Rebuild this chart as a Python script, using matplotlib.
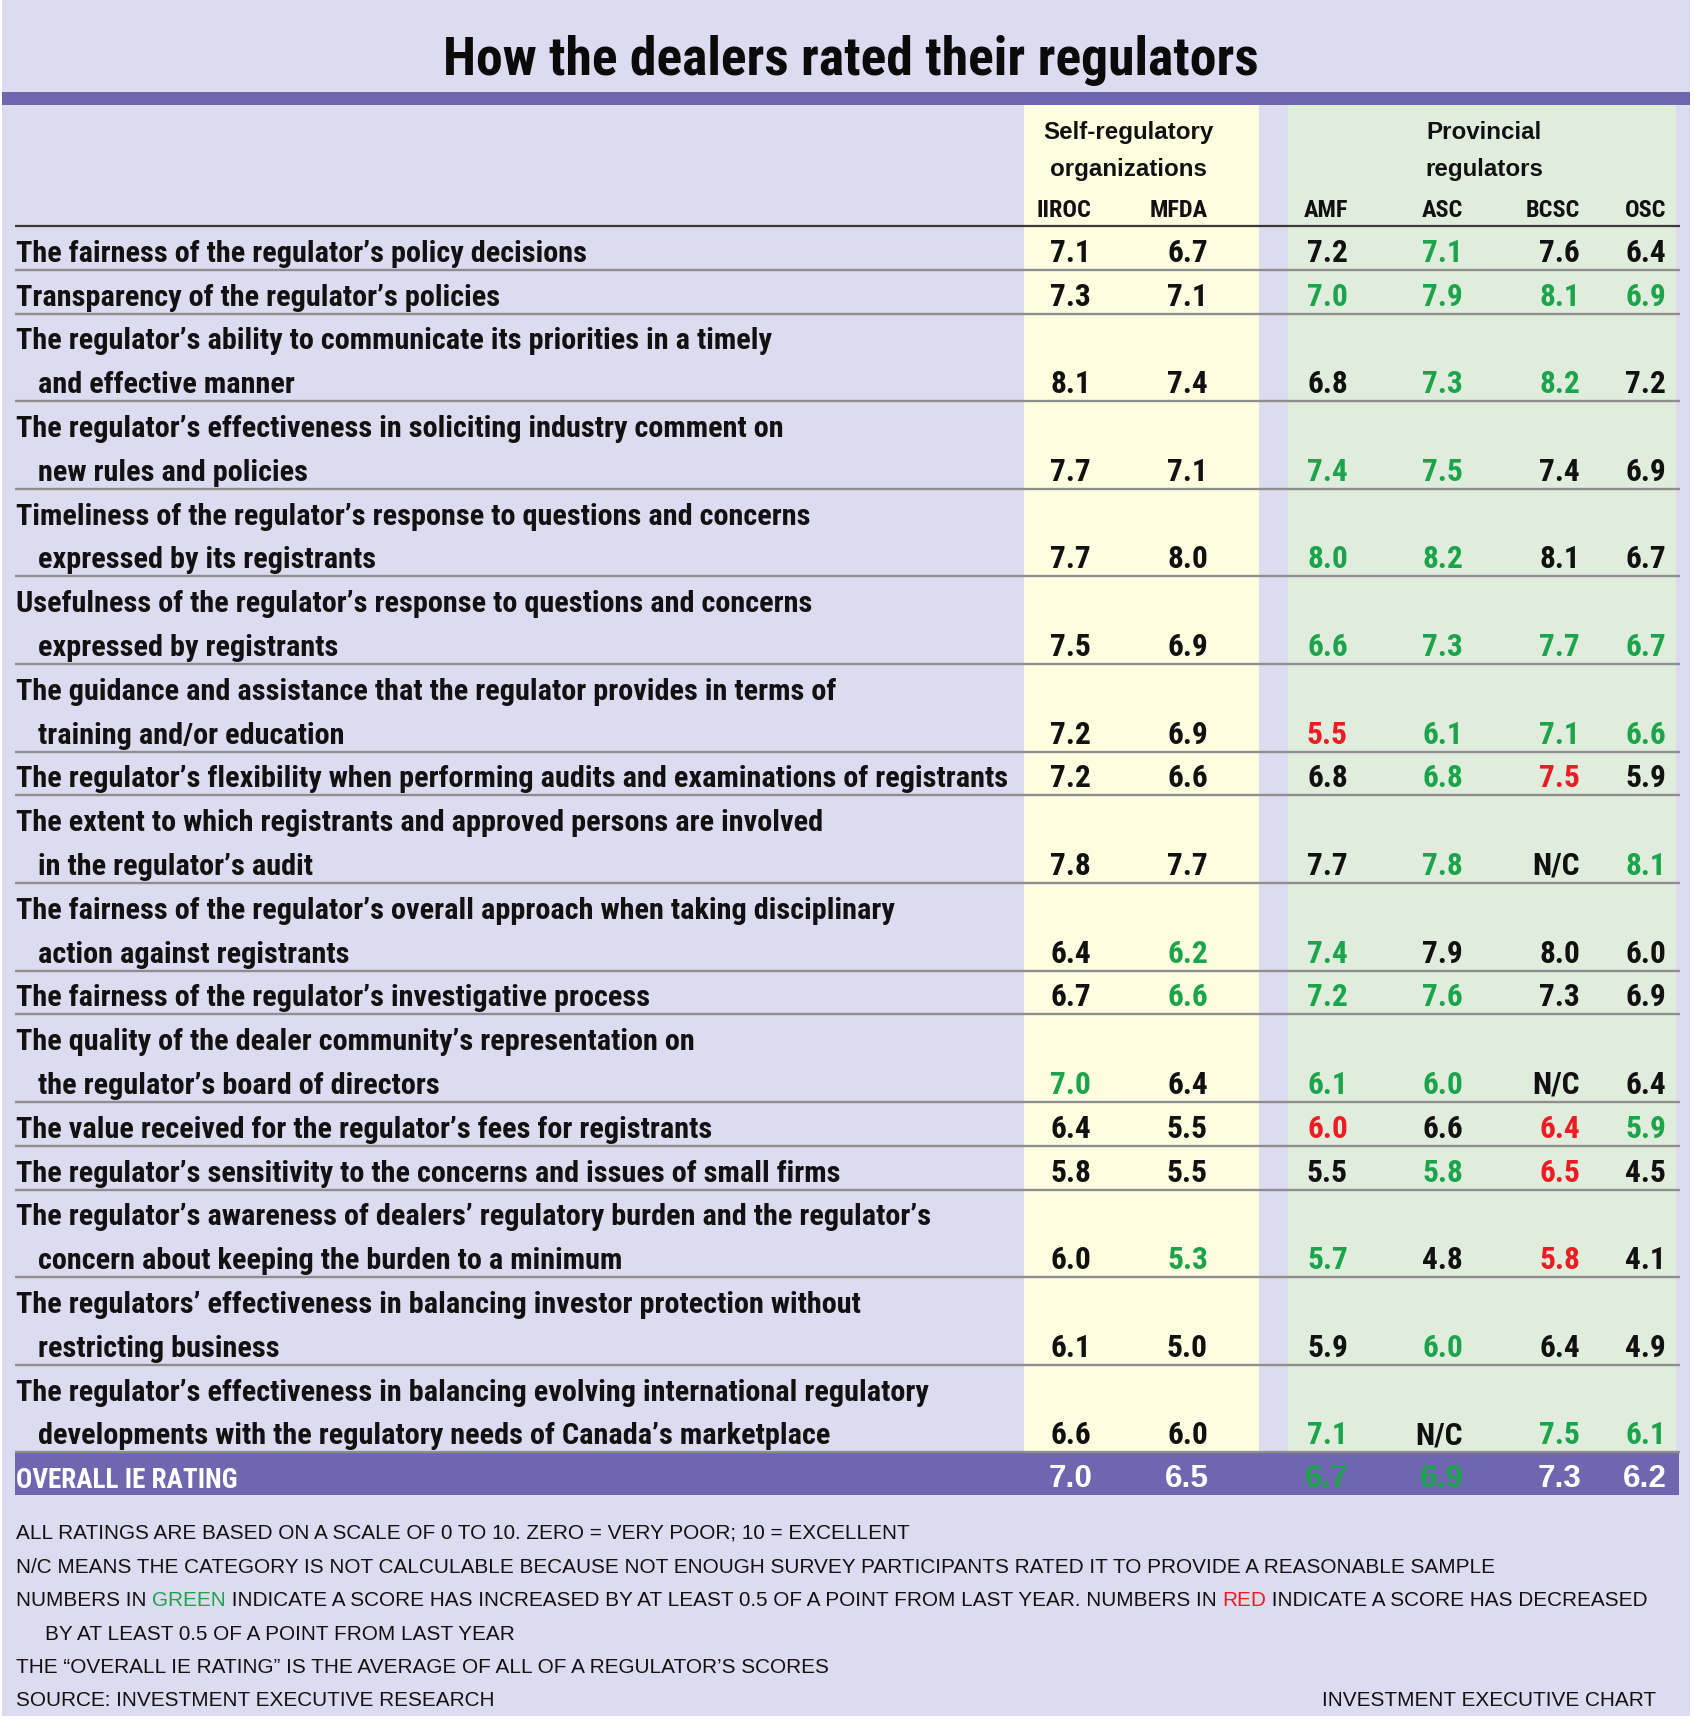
import matplotlib
matplotlib.use("Agg")
import matplotlib.pyplot as plt
from matplotlib.patches import Rectangle
from matplotlib import font_manager as fm
import numpy as np

# ---------------- data ----------------
title = "How the dealers rated their regulators"
group_labels = ["Self-regulatory\norganizations", "Provincial\nregulators"]
columns = ["IIROC", "MFDA", "AMF", "ASC", "BCSC", "OSC"]

criteria = [
    "The fairness of the regulator\u2019s policy decisions",
    "Transparency of the regulator\u2019s policies",
    "The regulator\u2019s ability to communicate its priorities in a timely\nand effective manner",
    "The regulator\u2019s effectiveness in soliciting industry comment on\nnew rules and policies",
    "Timeliness of the regulator\u2019s response to questions and concerns\nexpressed by its registrants",
    "Usefulness of the regulator\u2019s response to questions and concerns\nexpressed by registrants",
    "The guidance and assistance that the regulator provides in terms of\ntraining and/or education",
    "The regulator\u2019s flexibility when performing audits and examinations of registrants",
    "The extent to which registrants and approved persons are involved\nin the regulator\u2019s audit",
    "The fairness of the regulator\u2019s overall approach when taking disciplinary\naction against registrants",
    "The fairness of the regulator\u2019s investigative process",
    "The quality of the dealer community\u2019s representation on\nthe regulator\u2019s board of directors",
    "The value received for the regulator\u2019s fees for registrants",
    "The regulator\u2019s sensitivity to the concerns and issues of small firms",
    "The regulator\u2019s awareness of dealers\u2019 regulatory burden and the regulator\u2019s\nconcern about keeping the burden to a minimum",
    "The regulators\u2019 effectiveness in balancing investor protection without\nrestricting business",
    "The regulator\u2019s effectiveness in balancing evolving international regulatory\ndevelopments with the regulatory needs of Canada\u2019s marketplace",
]

iiroc = [7.1, 7.3, 8.1, 7.7, 7.7, 7.5, 7.2, 7.2, 7.8, 6.4, 6.7, 7.0, 6.4, 5.8, 6.0, 6.1, 6.6]
mfda  = [6.7, 7.1, 7.4, 7.1, 8.0, 6.9, 6.9, 6.6, 7.7, 6.2, 6.6, 6.4, 5.5, 5.5, 5.3, 5.0, 6.0]
amf   = [7.2, 7.0, 6.8, 7.4, 8.0, 6.6, 5.5, 6.8, 7.7, 7.4, 7.2, 6.1, 6.0, 5.5, 5.7, 5.9, 7.1]
asc   = [7.1, 7.9, 7.3, 7.5, 8.2, 7.3, 6.1, 6.8, 7.8, 7.9, 7.6, 6.0, 6.6, 5.8, 4.8, 6.0, None]
bcsc  = [7.6, 8.1, 8.2, 7.4, 8.1, 7.7, 7.1, 7.5, None, 8.0, 7.3, None, 6.4, 6.5, 5.8, 6.4, 7.5]
osc   = [6.4, 6.9, 7.2, 6.9, 6.7, 6.7, 6.6, 5.9, 8.1, 6.0, 6.9, 6.4, 5.9, 4.5, 4.1, 4.9, 6.1]

# change vs last year: g = up at least 0.5, r = down at least 0.5, - = none
iiroc_chg = "-----------g-----"
mfda_chg  = "---------gg---g--"
amf_chg   = "-g-gggr--gggr-g-g"
asc_chg   = "ggggggggg-gg-g-g-"
bcsc_chg  = "-gg--ggr----rrr-g"
osc_chg   = "-g---gg-g---g---g"

overall_label = "OVERALL IE RATING"
overall = [7.0, 6.5, 6.7, 6.9, 7.3, 6.2]
overall_chg = "--gg--"

notes = [
    "ALL RATINGS ARE BASED ON A SCALE OF 0 TO 10. ZERO = VERY POOR; 10 = EXCELLENT",
    "N/C MEANS THE CATEGORY IS NOT CALCULABLE BECAUSE NOT ENOUGH SURVEY PARTICIPANTS RATED IT TO PROVIDE A REASONABLE SAMPLE",
    [("NUMBERS IN ", "k"), ("GREEN", "g"),
     (" INDICATE A SCORE HAS INCREASED BY AT LEAST 0.5 OF A POINT FROM LAST YEAR. NUMBERS IN ", "k"),
     ("RED", "r"), (" INDICATE A SCORE HAS DECREASED", "k")],
    "BY AT LEAST 0.5 OF A POINT FROM LAST YEAR",
    "THE \u201cOVERALL IE RATING\u201d IS THE AVERAGE OF ALL OF A REGULATOR\u2019S SCORES",
    "SOURCE: INVESTMENT EXECUTIVE RESEARCH",
]
credit = "INVESTMENT EXECUTIVE CHART"

values = [iiroc, mfda, amf, asc, bcsc, osc]
changes = [iiroc_chg, mfda_chg, amf_chg, asc_chg, bcsc_chg, osc_chg]

# ---------------- fonts ----------------
def find_condensed_bold():
    prefs = ["liberationsansnarrow-bold.", "robotocondensed-bold.", "notosans-condensedbold.",
             "opensans-condensedbold.", "dejavusanscondensed-bold.", "notosans-semicondensedbold.",
             "opensans_condensed-bold", "robotocondensed-semibold", "notosans-extracondensedbold."]
    entries = fm.fontManager.ttflist
    lowmap = {}
    for e in entries:
        lowmap.setdefault(e.fname.lower().split("/")[-1], e)
    for p in prefs:
        for k, e in lowmap.items():
            if k.startswith(p) or p in k:
                return fm.FontProperties(fname=e.fname)
    for k, e in lowmap.items():
        if ("condensed" in k or "narrow" in k) and "bold" in k and "italic" not in k \
                and "extra" not in k and "semi" not in k:
            return fm.FontProperties(fname=e.fname)
    return fm.FontProperties(family=["DejaVu Sans"], weight="bold")

COND = find_condensed_bold()
SANS_B = fm.FontProperties(family=["Liberation Sans", "DejaVu Sans"], weight="bold")
SANS_R = fm.FontProperties(family=["Liberation Sans", "DejaVu Sans"], weight="normal")

# ---------------- style ----------------
W, H = 1694, 1724
LAV = "#DCDBEF"
PURPLE = "#6E67AF"
YELLOW = "#FEFDDF"
MINT = "#E1EDDC"
GRID = "#8E8E8E"
GREEN = "#1BA44B"
RED = "#EC1C24"
COLMAP = {"-": "#111111", "k": "#111111", "g": GREEN, "r": RED}

col_x = [1091, 1208, 1348, 1463, 1580, 1666]
group_x = [1128, 1484]
unit = 43.8
table_top = 227
x_left, x_right = 15, 1680

fig = plt.figure(figsize=(W / 100, H / 100), dpi=100)
fig.patch.set_facecolor("white")
ax = fig.add_axes([0, 0, 1, 1])
ax.set_xlim(0, W)
ax.set_ylim(H, 0)
ax.axis("off")
renderer = fig.canvas.get_renderer()


def fit_size(text, fp, target_px):
    t = ax.text(0, 0, text, fontproperties=fp, fontsize=20)
    w = t.get_window_extent(renderer=renderer).width
    t.remove()
    return 20 * target_px / w


def txt(x, y, s, fp, size, **kw):
    kw.setdefault("va", "baseline")
    kw.setdefault("color", "#111111")
    kw.setdefault("zorder", 5)
    return ax.text(x, y, s, fontproperties=fp, fontsize=size, **kw)


# sizes fitted to reference widths
title_fs = fit_size(title, COND, 812)
label_fs = fit_size(criteria[7], COND, 990)
colhdr_fs = fit_size("IIROC", COND, 55)
overall_lbl_fs = fit_size(overall_label, COND, 222)
group_fs = fit_size("Self-regulatory", SANS_B, 170)
overall_fs = fit_size("7.0", SANS_B, 44)
note_fs = fit_size(notes[5], SANS_R, 477)

# background
ax.add_patch(Rectangle((2, 0), 1688, 1717, facecolor=LAV, edgecolor="none", zorder=0))
ax.add_patch(Rectangle((2, 93), 1688, 13, facecolor=PURPLE, edgecolor="none", zorder=1))

# row layout
nlines = np.array([c.count("\n") + 1 for c in criteria])
bottoms = table_top + np.cumsum(nlines) * unit
tops = bottoms - nlines * unit
table_bottom = bottoms[-1]

# column bands
ax.add_patch(Rectangle((1024, 106), 235, table_bottom - 106, facecolor=YELLOW, edgecolor="none", zorder=1))
ax.add_patch(Rectangle((1288, 106), 388, table_bottom - 106, facecolor=MINT, edgecolor="none", zorder=1))

# title
txt(851, 75, title, COND, title_fs, ha="center", color="#0a0a0a")

# header
for gx, gl in zip(group_x, group_labels):
    l1, l2 = gl.split("\n")
    txt(gx, 139, l1, SANS_B, group_fs, ha="center")
    txt(gx, 176, l2, SANS_B, group_fs, ha="center")
for cx, cn in zip(col_x, columns):
    txt(cx, 217, cn, COND, colhdr_fs, ha="right")

ax.plot([x_left, x_right], [table_top, table_top], color="#3a3a3a", lw=1.6, zorder=3,
        solid_capstyle="butt")

# rows
for i, crit in enumerate(criteria):
    lines = crit.split("\n")
    for j, ln in enumerate(lines):
        base = tops[i] + (j + 1) * unit - 9
        txt(16 if j == 0 else 38, base, ln, COND, label_fs, ha="left")
    base = bottoms[i] - 9
    for c in range(len(columns)):
        v = values[c][i]
        s = "N/C" if v is None else f"{v:.1f}"
        col = COLMAP[changes[c][i]] if v is not None else "#111111"
        txt(col_x[c], base, s, COND, label_fs * 1.04, ha="right", color=col)
    ax.plot([x_left, x_right], [bottoms[i], bottoms[i]], color=GRID, lw=1.7, zorder=3,
            solid_capstyle="butt")

# overall bar
ob_top = table_bottom + 1
ax.add_patch(Rectangle((x_left, ob_top), 1679 - x_left, 42, facecolor=PURPLE,
                       edgecolor="none", zorder=2))
txt(16, ob_top + 34, overall_label, COND, overall_lbl_fs, ha="left", color="white")
for c, v in enumerate(overall):
    col = GREEN if overall_chg[c] == "g" else "white"
    txt(col_x[c] + 1, ob_top + 33, f"{v:.1f}", SANS_B, overall_fs, ha="right", color=col)

# footnotes
note_base = [1539, 1573, 1606, 1640, 1673, 1706]
note_x = [16, 16, 16, 45, 16, 16]
for nx, nb, note in zip(note_x, note_base, notes):
    if isinstance(note, str):
        txt(nx, nb, note, SANS_R, note_fs, ha="left")
    else:
        x = nx
        for piece, code in note:
            t = txt(x, nb, piece, SANS_R, note_fs, ha="left", color=COLMAP[code])
            bb = t.get_window_extent(renderer=renderer)
            x = ax.transData.inverted().transform((bb.x1, 0))[0]
txt(1656, 1706, credit, SANS_R, note_fs, ha="right")

fig.savefig("out.png", dpi=100, facecolor="white")
